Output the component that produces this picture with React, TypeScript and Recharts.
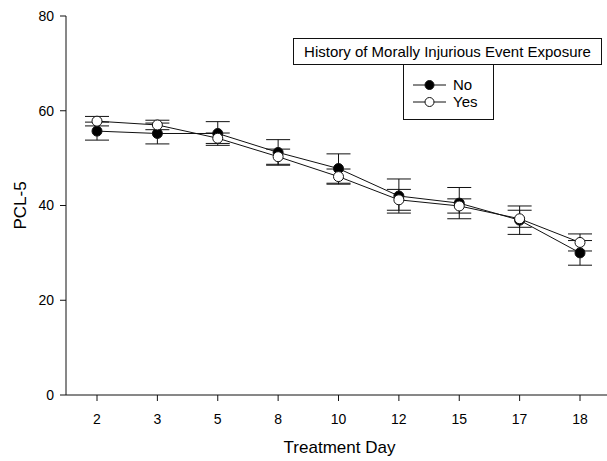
import React from 'react'
import {
  LineChart,
  Line,
  XAxis,
  YAxis,
  ErrorBar,
  Legend,
  Label,
} from 'recharts'

const days = ['2', '3', '5', '8', '10', '12', '15', '17', '18']
const noMean = [55.7, 55.2, 55.2, 51.2, 47.8, 42.0, 40.5, 36.9, 30.0]
const noErr = [1.9, 2.2, 2.5, 2.7, 3.1, 3.6, 3.3, 3.0, 2.6]
const yesMean = [57.8, 57.0, 54.2, 50.3, 46.1, 41.2, 39.9, 37.2, 32.2]
const yesErr = [1.0, 1.0, 1.1, 1.6, 1.6, 2.2, 1.5, 1.8, 1.8]
const yTicks = [0, 20, 40, 60, 80]
const seriesNames = ['No', 'Yes']

const data = days.map((day, i) => ({
  day,
  no: noMean[i],
  noErr: noErr[i],
  yes: yesMean[i],
  yesErr: yesErr[i],
}))

const font = "'Liberation Sans', Arial, sans-serif"
const ink = '#111'

function LegendBox({ payload }: any) {
  const items = (payload || []).filter(
    (p: any) => p.type !== 'none' && seriesNames.includes(p.value)
  )
  return (
    <div style={{ position: 'relative', width: 310, height: 82, fontFamily: font, color: '#000' }}>
      <div
        style={{
          position: 'absolute',
          left: 0,
          top: 0,
          width: 309,
          height: 27,
          border: `1px solid ${ink}`,
          boxSizing: 'border-box',
          fontSize: 15,
          lineHeight: '25px',
          textAlign: 'center',
        }}
      >
        History of Morally Injurious Event Exposure
      </div>
      <div
        style={{
          position: 'absolute',
          left: 110,
          top: 26,
          width: 91,
          height: 56,
          border: `1px solid ${ink}`,
          boxSizing: 'border-box',
        }}
      >
        {items.map((item: any, i: number) => (
          <div
            key={item.value}
            style={{ position: 'absolute', left: 9, top: 11 + i * 17, height: 17, display: 'flex', alignItems: 'center' }}
          >
            <svg width={34} height={12}>
              <line x1={0} y1={6} x2={33} y2={6} stroke={ink} strokeWidth={1} />
              <circle cx={16.5} cy={6} r={4.5} fill={item.value === 'No' ? '#000' : '#fff'} stroke={ink} />
            </svg>
            <span style={{ fontSize: 15, marginLeft: 6 }}>{item.value}</span>
          </div>
        ))}
      </div>
    </div>
  )
}

export default function App() {
  return (
    <div style={{ width: 607, height: 461, background: '#fff' }}>
      <style>{'body{margin:0}'}</style>
      <LineChart
        width={607}
        height={461}
        data={data}
        margin={{ top: 16, right: 0, left: 0, bottom: 0 }}
        style={{ fontFamily: font }}
      >
        <XAxis
          dataKey="day"
          height={66}
          padding={{ left: 31, right: 27 }}
          tickSize={6}
          tickMargin={13}
          axisLine={{ stroke: ink }}
          tickLine={{ stroke: ink }}
          tick={{ fill: '#000', fontSize: 14 }}
        >
          <Label value="Treatment Day" position="insideBottom" offset={8} dx={3} fill="#000" fontSize={17} />
        </XAxis>
        <YAxis
          domain={[0, 80]}
          ticks={yTicks}
          width={66}
          tickSize={6}
          tickMargin={6}
          axisLine={{ stroke: ink }}
          tickLine={{ stroke: ink }}
          tick={{ fill: '#000', fontSize: 14 }}
        >
          <Label
            value="PCL-5"
            angle={-90}
            position="insideLeft"
            offset={20}
            fill="#000"
            fontSize={17}
            style={{ textAnchor: 'middle' }}
          />
        </YAxis>
        <Legend
          layout="horizontal"
          verticalAlign="middle"
          align="center"
          wrapperStyle={{ left: 293, top: 38, width: 310, height: 82 }}
          content={<LegendBox />}
        />
        {/* lines and error bars first */}
        <Line
          name="No"
          dataKey="no"
          stroke={ink}
          strokeWidth={1}
          dot={false}
          isAnimationActive={false}
        >
          <ErrorBar dataKey="noErr" width={12} stroke={ink} strokeWidth={1} direction="y" />
        </Line>
        <Line
          name="Yes"
          dataKey="yes"
          stroke={ink}
          strokeWidth={1}
          dot={false}
          isAnimationActive={false}
        >
          <ErrorBar dataKey="yesErr" width={12} stroke={ink} strokeWidth={1} direction="y" />
        </Line>
        {/* markers on top so the circles cover the bars */}
        <Line
          name="no-markers"
          dataKey="no"
          stroke="none"
          legendType="none"
          dot={{ r: 5, fill: '#000', stroke: ink, strokeWidth: 1 }}
          activeDot={false}
          isAnimationActive={false}
        />
        <Line
          name="yes-markers"
          dataKey="yes"
          stroke="none"
          legendType="none"
          dot={{ r: 5, fill: '#fff', stroke: ink, strokeWidth: 1 }}
          activeDot={false}
          isAnimationActive={false}
        />
      </LineChart>
    </div>
  )
}
